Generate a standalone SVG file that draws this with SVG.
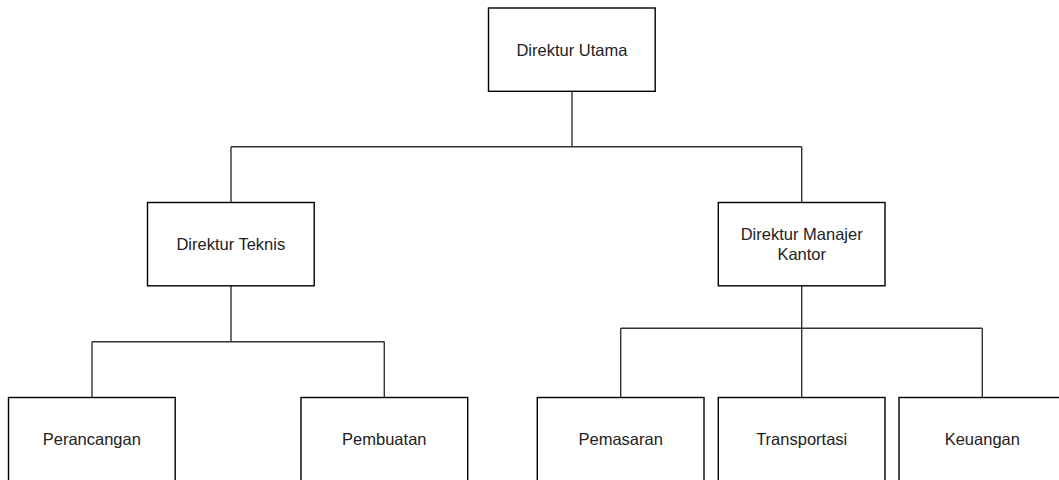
<svg xmlns="http://www.w3.org/2000/svg" width="1059" height="480" viewBox="0 0 1059 480">
<style>
.box{fill:#fff;stroke:#000;stroke-width:1.4}
.lbl{font-family:"Liberation Sans",Arial,sans-serif;font-size:16.5px;fill:#222;text-anchor:middle}
.conn{fill:none;stroke:#333;stroke-width:1.4}
</style>
<rect width="1059" height="480" fill="#fff"/>
<g id="connectors">
<path class="conn" d="M572 90.5V146.7M231 146.7H801.7M231 146.7V202.5M801.7 146.7V202.5"/>
<path class="conn" d="M231 286V341.7M92 341.7H384.3M92 341.7V397.5M384.3 341.7V397.5"/>
<path class="conn" d="M801.7 286V397.5M620.7 328.3H982.3M620.7 328.3V397.5M982.3 328.3V397.5"/>
</g>
<g id="direktur-utama">
<rect class="box" x="488.5" y="8" width="166.7" height="83.3"/>
<text class="lbl" x="571.9" y="55.6">Direktur Utama</text>
</g>
<g id="direktur-teknis">
<rect class="box" x="147.5" y="202.5" width="166.7" height="83.3"/>
<text class="lbl" x="230.8" y="250">Direktur Teknis</text>
</g>
<g id="direktur-manajer-kantor">
<rect class="box" x="718.3" y="202.5" width="166.7" height="83.3"/>
<text class="lbl" x="801.7" y="240.1">Direktur Manajer</text>
<text class="lbl" x="801.7" y="260">Kantor</text>
</g>
<g id="perancangan">
<rect class="box" x="8.5" y="397.5" width="166.7" height="83.3"/>
<text class="lbl" x="91.8" y="445">Perancangan</text>
</g>
<g id="pembuatan">
<rect class="box" x="301" y="397.5" width="166.7" height="83.3"/>
<text class="lbl" x="384.3" y="445">Pembuatan</text>
</g>
<g id="pemasaran">
<rect class="box" x="537.3" y="397.5" width="166.7" height="83.3"/>
<text class="lbl" x="620.7" y="445">Pemasaran</text>
</g>
<g id="transportasi">
<rect class="box" x="718.3" y="397.5" width="166.7" height="83.3"/>
<text class="lbl" x="801.7" y="445">Transportasi</text>
</g>
<g id="keuangan">
<rect class="box" x="899" y="397.5" width="166.7" height="83.3"/>
<text class="lbl" x="982.3" y="445">Keuangan</text>
</g>
</svg>
